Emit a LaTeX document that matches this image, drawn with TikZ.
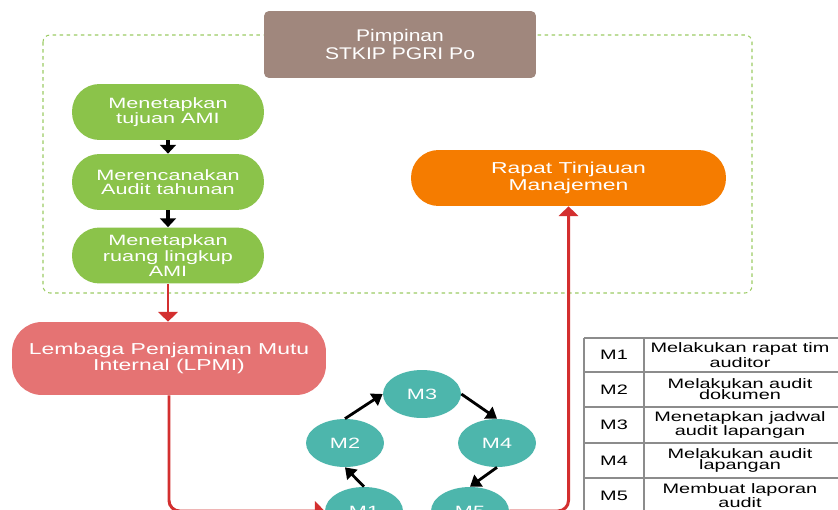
\documentclass[tikz,border=0pt]{standalone}
\usepackage{fontspec}
\setmainfont{Liberation Sans}[FakeStretch=1.45]
\newfontfamily\pimpfont{Liberation Sans}[FakeStretch=1.25]
\usetikzlibrary{arrows.meta,shapes.geometric}
\definecolor{pimpbrown}{HTML}{A0877D}
\definecolor{amigreen}{HTML}{8BC34A}
\definecolor{framegreen}{HTML}{9CCC65}
\definecolor{lpmired}{HTML}{E57373}
\definecolor{rtmorange}{HTML}{F57C00}
\definecolor{mteal}{HTML}{4DB6AC}
\definecolor{flowred}{HTML}{D32F2F}
\definecolor{tabgray}{HTML}{8C8C8C}
\tikzset{
	box/.style={text=white, align=center, inner sep=0pt},
	pimpbox/.style={box, fill=pimpbrown, minimum width=5.44cm, minimum height=1.34cm, rounded corners=0.1cm, font=\pimpfont\fontsize{9.6}{10.2}\selectfont},
	greenbox/.style={box, fill=amigreen, minimum width=3.84cm, minimum height=1.12cm, rounded corners=0.55cm, font=\fontsize{8.5}{7.6}\selectfont},
	lpmibox/.style={box, fill=lpmired, minimum width=6.28cm, minimum height=1.46cm, rounded corners=0.6cm, font=\fontsize{9}{8}\selectfont},
	rtmbox/.style={box, fill=rtmorange, minimum width=6.3cm, minimum height=1.12cm, rounded corners=0.55cm, font=\fontsize{9}{7.6}\selectfont},
	mnode/.style={ellipse, fill=mteal, text=white, inner sep=0pt, minimum width=1.56cm, minimum height=0.96cm, font=\fontsize{8.5}{9}\selectfont},
	frame/.style={framegreen, line width=0.6pt, dash pattern=on 2pt off 2pt, rounded corners=4pt},
	redline/.style={flowred, line width=1.7pt, -{Triangle[width=11pt,length=5.5pt]}},
	blackarrow/.style={black, line width=1.6pt, -{Triangle[width=8pt,length=6pt]}},
	shortarrow/.style={black, line width=1.8pt, -{Triangle[width=9pt,length=5pt]}},
	tabline/.style={tabgray, line width=0.8pt},
	tabtext/.style={align=center, inner sep=0pt, font=\fontsize{7.8}{6.3}\selectfont}
}
\begin{document}
\begin{tikzpicture}[x=0.02cm, y=-0.02cm]
		%%%%% START %%%%%
		\clip (0, 0) rectangle (838, 510);
		\fill[white] (0, 0) rectangle (838, 510);
		
		\draw[frame] (43, 35) rectangle (752, 293);
		\node[pimpbox] (pimpinan) at (400, 44.5) {Pimpinan\\STKIP PGRI Po};
		
		\node[greenbox] (tujuan) at (168, 112) {Menetapkan\\tujuan AMI};
		\node[greenbox] (rencana) at (168, 182) {Merencanakan\\Audit tahunan};
		\node[greenbox] (lingkup) at (168, 255.5) {Menetapkan\\ruang lingkup\\AMI};
		\draw[shortarrow] (tujuan) -- (rencana);
		\draw[shortarrow] (rencana) -- (lingkup);
		
		\node[rtmbox] (rapat) at (568.5, 178) {Rapat Tinjauan\\Manajemen};
		\node[lpmibox] (lpmi) at (169, 358.5) {Lembaga Penjaminan Mutu\\Internal (LPMI)};
		\draw[redline] (lingkup.south) -- (lingkup.south |- lpmi.north);
		
		% siklus audit
		\node[mnode] (m1) at (364, 511) {M1};
		\node[mnode] (m2) at (345, 443) {M2};
		\node[mnode] (m3) at (422, 394) {M3};
		\node[mnode] (m4) at (497, 443) {M4};
		\node[mnode] (m5) at (470, 511) {M5};
		\draw[blackarrow] (m1.north) -- (m2.south);
		\draw[blackarrow] (m2.north) -- (m3.west);
		\draw[blackarrow] (m3.east) -- (m4.north);
		\draw[blackarrow] (m4.south) -- (m5.north);
		
		\draw[redline, rounded corners=6pt] (lpmi.south) |- (m1.west);
		\draw[redline, rounded corners=6pt] (m5.east) -| (rapat.south);
		
		% tabel keterangan
		\foreach \y in {338, 372, 407, 443, 478}
			\draw[tabline] (584, \y) -- (840, \y);
		\draw[tabline] (584, 338) -- (584, 512);
		\draw[tabline] (644, 338) -- (644, 512);
		\foreach \y/\k/\desc in {355/1/{Melakukan rapat tim\\auditor}, 389.5/2/{Melakukan audit\\dokumen}, 425/3/{Menetapkan jadwal\\audit lapangan}, 460.5/4/{Melakukan audit\\lapangan}, 495.5/5/{Membuat laporan\\audit}}{
			\node[tabtext] (key\k) at (614, \y) {M\k};
			\node[tabtext] (desc\k) at (740, \y) {\desc};
		}
		%%%%% END %%%%%
	\end{tikzpicture}
\end{document}
